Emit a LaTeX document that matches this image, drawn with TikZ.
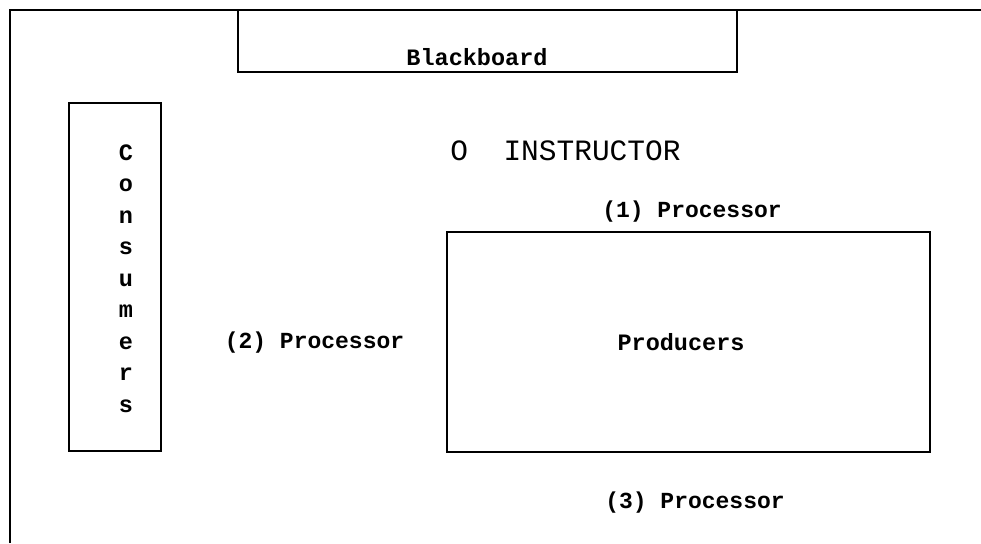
\documentclass[tikz,border=0pt]{standalone}
\usepackage{fontspec}
\newfontfamily\tw{Liberation Mono}
\begin{document}
\begin{tikzpicture}[x=1pt,y=-1pt,
  frameline/.style={line width=2pt},
  boxshape/.style={draw,line width=2pt,rectangle,inner sep=0pt,outer sep=0pt},
  lbl/.style={anchor=base,inner sep=0pt,font=\tw\bfseries\fontsize{23.5}{28}\selectfont},
  proc/.style={anchor=base,inner sep=0pt,font=\tw\bfseries\fontsize{23}{28}\selectfont},
  instr/.style={anchor=base,inner sep=0pt,font=\tw\fontsize{29.5}{34}\selectfont}]
\useasboundingbox (0,0) rectangle (981,543);
\fill[white] (0,0) rectangle (981,543);
% outer frame (open at right and bottom)
\coordinate (fbl) at (10,543);
\coordinate (ftl) at (10,10);
\coordinate (ftr) at (981,10);
\draw[frameline] (fbl) -- (ftl) -- (ftr);
% boxes
\node[boxshape,minimum width=499pt,minimum height=62pt] (bb) at (487.5,41) {};
\node[boxshape,minimum width=92pt,minimum height=348pt] (cons) at (115,277) {};
\node[boxshape,minimum width=483pt,minimum height=220pt] (prod) at (688.5,342) {};
% texts
\node[lbl] (bbt) at (477,65) {Blackboard};
\node[lbl] (prodt) at (681,350) {Producers};
\node[anchor=base,inner sep=0pt,align=center,font=\tw\bfseries\fontsize{23.5}{31.5}\selectfont] (const) at (126,412) {C\\o\\n\\s\\u\\m\\e\\r\\s};
\node[instr] (instr) at (565.5,160) {O\ \ INSTRUCTOR};
\node[proc] (p1) at (692,217) {(1) Processor};
\node[proc] (p2) at (314.5,348) {(2) Processor};
\node[proc] (p3) at (695,508) {(3) Processor};
\end{tikzpicture}
\end{document}
